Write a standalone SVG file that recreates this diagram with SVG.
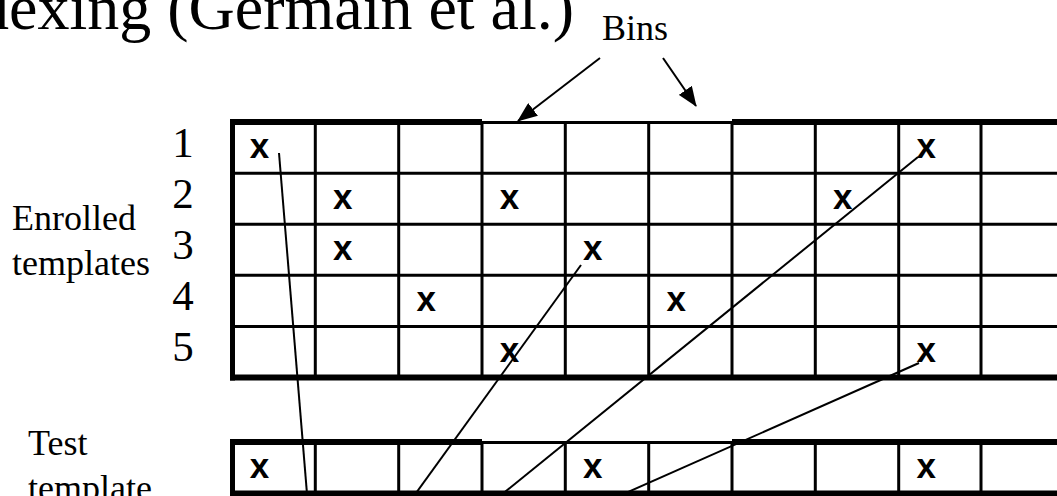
<svg xmlns="http://www.w3.org/2000/svg" width="1057" height="496" viewBox="0 0 1057 496">
<style>
.serif{font-family:"Liberation Serif","Times New Roman",serif;fill:#000}
.lbl{font-size:36px}
.num{font-size:43px;text-anchor:middle}
.mark{font-family:"Liberation Sans",Arial,sans-serif;font-weight:bold;font-size:35px;text-anchor:middle;fill:#000}
.thin{stroke:#000;stroke-width:3;fill:none}
.thick{stroke:#000;stroke-width:6;fill:none}
.conn{stroke:#000;stroke-width:2;fill:none}
</style>
<defs>
<marker id="arr" markerUnits="userSpaceOnUse" markerWidth="20" markerHeight="16" refX="19" refY="8" orient="auto">
<path d="M0,0 L20,8 L0,16 Z" fill="#000"/>
</marker>
</defs>
<rect width="1057" height="496" fill="#fff"/>
<g id="title"><text class="serif" x="-23" y="29" font-size="64">dexing (Germain et al.)</text></g>
<g id="bins-label"><text class="serif lbl" x="602" y="40">Bins</text></g>
<g id="enrolled-label"><text class="serif lbl" x="12" y="230">Enrolled</text><text class="serif lbl" x="12" y="275">templates</text></g>
<g id="test-label"><text class="serif lbl" x="28" y="455">Test</text><text class="serif lbl" x="28" y="500">template</text></g>
<g id="row-numbers">
<text class="serif num" x="183" y="157">1</text>
<text class="serif num" x="183" y="208">2</text>
<text class="serif num" x="183" y="259">3</text>
<text class="serif num" x="183" y="310">4</text>
<text class="serif num" x="183" y="361">5</text>
</g>
<g id="enrolled-grid">
<path class="thin" d="M232,173.3H1057M232,224.3H1057M232,275.3H1057M232,326.5H1057"/>
<path class="thin" d="M315.3,122V377M398.7,122V377M482,122V377M565.3,122V377M648.7,122V377M732,122V377M815.3,122V377M898.7,122V377M981,122V377"/>
<path class="thin" d="M482,122.5H732"/>
<path class="thick" d="M230,122H482M732,122H1057M230,377.5H1057"/>
<path stroke="#000" stroke-width="5" d="M232.5,119V380.5"/>
</g>
<g id="enrolled-marks">
<text class="mark" x="259.5" y="158">x</text>
<text class="mark" x="926.2" y="158">x</text>
<text class="mark" x="342.8" y="209">x</text>
<text class="mark" x="509.5" y="209">x</text>
<text class="mark" x="842.8" y="209">x</text>
<text class="mark" x="342.8" y="260">x</text>
<text class="mark" x="592.8" y="260">x</text>
<text class="mark" x="426.2" y="311">x</text>
<text class="mark" x="676.2" y="311">x</text>
<text class="mark" x="509.5" y="362">x</text>
<text class="mark" x="926.2" y="362">x</text>
</g>
<g id="test-grid">
<path class="thin" d="M315.3,442V496M398.7,442V496M482,442V496M565.3,442V496M648.7,442V496M732,442V496M815.3,442V496M898.7,442V496M981,442V496"/>
<path class="thin" d="M482,442.5H732"/>
<path class="thick" d="M230,442H482M732,442H1057M230,493.5H1057"/>
<path stroke="#000" stroke-width="5" d="M232.5,439V496"/>
</g>
<g id="test-marks">
<text class="mark" x="259.5" y="478">x</text>
<text class="mark" x="592.8" y="478">x</text>
<text class="mark" x="926.2" y="478">x</text>
</g>
<g id="connectors">
<line class="conn" x1="279" y1="153" x2="307.5" y2="500"/>
<line class="conn" x1="581" y1="265" x2="411" y2="500"/>
<line class="conn" x1="918" y1="157" x2="495" y2="500"/>
<line class="conn" x1="919" y1="363" x2="610" y2="500"/>
<line class="conn" x1="600" y1="58" x2="518" y2="121" marker-end="url(#arr)"/>
<line class="conn" x1="663" y1="58" x2="696" y2="106" marker-end="url(#arr)"/>
</g>
</svg>
